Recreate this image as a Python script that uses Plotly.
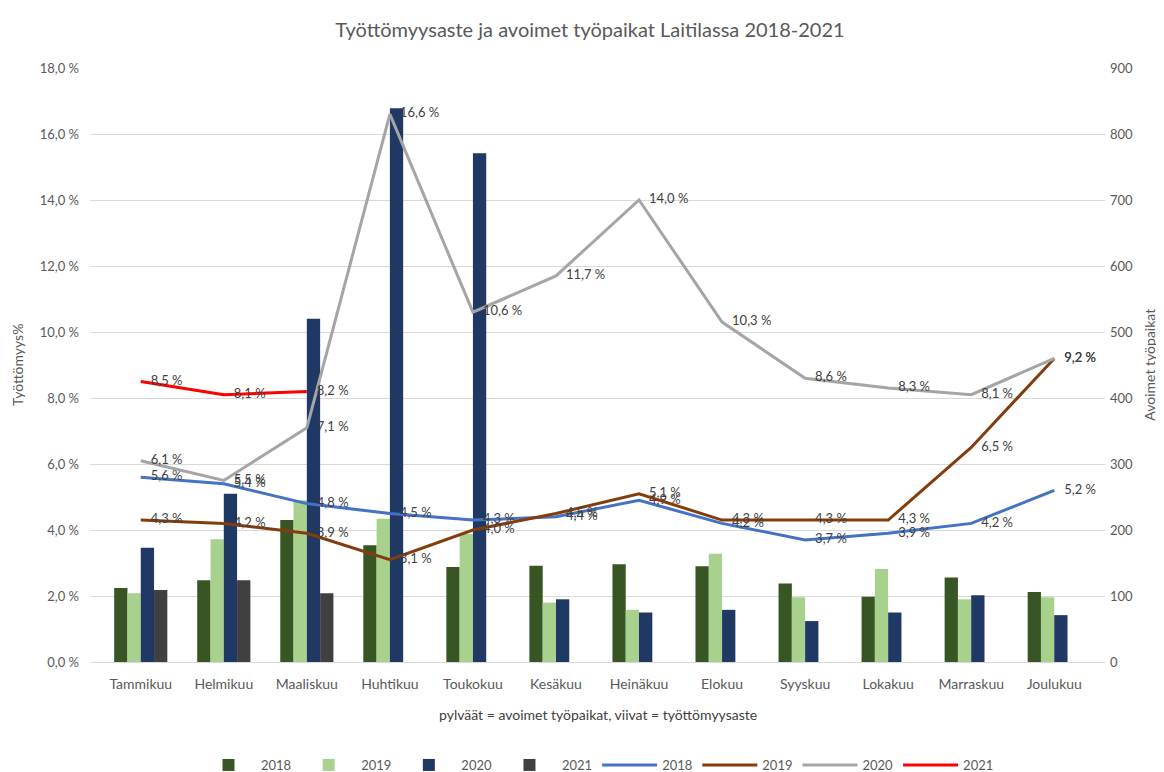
import plotly.graph_objects as go

months = ["Tammikuu", "Helmikuu", "Maaliskuu", "Huhtikuu", "Toukokuu", "Kesäkuu",
          "Heinäkuu", "Elokuu", "Syyskuu", "Lokakuu", "Marraskuu", "Joulukuu"]

# avoimet työpaikat (bars, right axis)
jobs_2018 = [112, 124, 215, 177, 144, 146, 148, 145, 119, 99, 128, 106]
jobs_2019 = [104, 186, 245, 217, 194, 90, 79, 164, 98, 141, 95, 98]
jobs_2020 = [173, 255, 520, 839, 771, 95, 75, 79, 62, 75, 101, 71]
jobs_2021 = [109, 124, 104, None, None, None, None, None, None, None, None, None]

# työttömyysaste % (lines, left axis)
rate_2018 = [5.6, 5.4, 4.8, 4.5, 4.3, 4.4, 4.9, 4.2, 3.7, 3.9, 4.2, 5.2]
rate_2019 = [4.3, 4.2, 3.9, 3.1, 4.0, 4.5, 5.1, 4.3, 4.3, 4.3, 6.5, 9.2]
rate_2020 = [6.1, 5.5, 7.1, 16.6, 10.6, 11.7, 14.0, 10.3, 8.6, 8.3, 8.1, 9.2]
rate_2021 = [8.5, 8.1, 8.2, None, None, None, None, None, None, None, None, None]

bar_colors = {"2018": "#375623", "2019": "#A9D18E", "2020": "#203864", "2021": "#404040"}
line_colors = {"2018": "#4472C4", "2019": "#843C0C", "2020": "#A5A5A5", "2021": "#FF0000"}

FONT = "Lato, 'Open Sans', sans-serif"
GREY = "#595959"
PAD = "\u00a0\u00a0\u00a0"


def lbl(vals):
    return ["" if v is None else PAD + f"{v:.1f} %".replace(".", ",") for v in vals]


fig = go.Figure()

for yr, vals in [("2018", jobs_2018), ("2019", jobs_2019), ("2020", jobs_2020), ("2021", jobs_2021)]:
    fig.add_trace(go.Bar(
        x=months, y=vals, name=yr, yaxis="y",
        marker=dict(color=bar_colors[yr], line_width=0),
    ))

for yr, vals in [("2018", rate_2018), ("2019", rate_2019), ("2020", rate_2020), ("2021", rate_2021)]:
    fig.add_trace(go.Scatter(
        x=months, y=vals, name=yr, yaxis="y2",
        mode="lines+text",
        line=dict(color=line_colors[yr], width=3),
        text=lbl(vals), textposition="middle right",
        textfont=dict(size=13, color="#404040", family=FONT),
        cliponaxis=False,
    ))

fig.update_layout(
    width=1164, height=772,
    paper_bgcolor="white", plot_bgcolor="white",
    font=dict(family=FONT, color=GREY, size=13),
    separators=", ",
    title=dict(text="Työttömyysaste ja avoimet työpaikat Laitilassa 2018-2021",
               x=0.5, xanchor="center", y=0.972, yanchor="middle",
               font=dict(size=20, color=GREY)),
    margin=dict(l=82, r=67, t=60, b=118),
    barmode="group", bargap=0.36, bargroupgap=0,
    xaxis=dict(
        showgrid=False, showline=False, ticks="", automargin=False,
        tickfont=dict(size=14, color=GREY), ticklabelstandoff=12,
    ),
    yaxis=dict(
        side="right", range=[0, 900], dtick=100, automargin=False,
        showgrid=True, gridcolor="#D9D9D9", gridwidth=1,
        zeroline=True, zerolinecolor="#D9D9D9", zerolinewidth=1,
        tickfont=dict(size=13, color=GREY), ticklabelstandoff=4,
    ),
    yaxis2=dict(
        side="left", overlaying="y", range=[0, 18], dtick=2, automargin=False,
        tickformat=".1f", ticksuffix=" %",
        showgrid=False, zeroline=False,
        tickfont=dict(size=13, color=GREY), ticklabelstandoff=10,
    ),
    legend=dict(
        orientation="h", x=0.5, xanchor="center",
        yref="container", y=0.0, yanchor="bottom",
        font=dict(size=13, color=GREY), traceorder="normal",
        itemwidth=55,
    ),
    showlegend=True,
    annotations=[
        dict(text="pylväät = avoimet työpaikat, viivat = työttömyysaste",
             xref="paper", yref="paper", x=0.5, y=-0.088, xanchor="center", yanchor="middle",
             showarrow=False, font=dict(size=14, color="#404040")),
        dict(text="Työttömyys%", textangle=-90,
             xref="paper", yref="paper", x=-0.072, y=0.5, xanchor="center", yanchor="middle",
             showarrow=False, font=dict(size=14, color=GREY)),
        dict(text="Avoimet työpaikat", textangle=-90,
             xref="paper", yref="paper", x=1.043, y=0.5, xanchor="center", yanchor="middle",
             showarrow=False, font=dict(size=14, color=GREY)),
    ],
)

fig.write_html("out.html")
